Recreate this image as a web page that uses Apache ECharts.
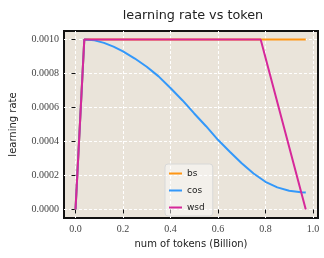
<!DOCTYPE html>
<html><head><meta charset="utf-8">
<script src="https://cdn.jsdelivr.net/npm/echarts@6/dist/echarts.min.js"></script>
<style>html,body{margin:0;padding:0;background:#fff}#c{width:324px;height:258px}</style>
</head><body><div id="c"></div>
<script>
const bsX = [0, 0.037, 0.97];
const bsY = [0, 0.001, 0.001];
const cosX = [0, 0.037, 0.08, 0.12, 0.16, 0.2, 0.25, 0.3, 0.35, 0.4, 0.45, 0.5, 0.55, 0.6, 0.65, 0.7, 0.75, 0.8, 0.85, 0.9, 0.95, 0.97];
const cosY = [0, 0.001, 0.000995, 0.00098, 0.000958, 0.00093, 0.000888, 0.00084, 0.000783, 0.000715, 0.000643, 0.000565, 0.00049, 0.00041, 0.00034, 0.000272, 0.000212, 0.000163, 0.00013, 0.00011, 0.000102, 0.0001];
const wsdX = [0, 0.037, 0.78, 0.97];
const wsdY = [0, 0.001, 0.001, 0];
const xTicks = [0, 0.2, 0.4, 0.6, 0.8, 1.0];
const yTicks = [0, 0.0002, 0.0004, 0.0006, 0.0008, 0.001];
const names = ['bs', 'cos', 'wsd'];
const colors = ['#FF9614', '#3398FA', '#D6289A'];

const zip = (xs, ys) => xs.map((x, i) => [x, ys[i]]);
const chart = echarts.init(document.getElementById('c'), null, {renderer: 'canvas'});
const serif = '"Liberation Serif", "DejaVu Serif", serif';
const sans = '"DejaVu Sans", sans-serif';
chart.setOption({
  animation: false,
  title: {text: 'learning rate vs token', left: 188, textAlign: 'center', top: 4,
    textStyle: {fontFamily: sans, fontSize: 12.8, fontWeight: 'normal', color: '#222'}},
  grid: {left: 58, right: 6, top: 31, bottom: 40, show: true, backgroundColor: '#EAE4DA', borderColor: '#111', borderWidth: 2},
  legend: {
    data: names, orient: 'vertical', left: 165, top: 164,
    icon: 'rect', itemWidth: 13, itemHeight: 2, itemGap: 8,
    backgroundColor: 'rgba(255,255,255,0.45)', borderColor: '#d8d8d8', borderWidth: 1, borderRadius: 3,
    padding: [5, 8, 4, 4],
    textStyle: {fontFamily: sans, fontSize: 9, color: '#222'}
  },
  xAxis: {
    type: 'value', min: -0.0485, max: 1.0215,
    name: 'num of tokens (Billion)', nameLocation: 'middle', nameGap: 21,
    nameTextStyle: {fontFamily: sans, fontSize: 10, color: '#222'},
    axisLine: {show: false},
    axisTick: {show: true, customValues: xTicks, length: 4, lineStyle: {color: '#111', width: 1}},
    axisLabel: {customValues: xTicks, formatter: v => v.toFixed(1), fontFamily: serif, fontSize: 10, color: '#444', margin: 6},
    splitLine: {show: true, lineStyle: {color: '#fff', type: [3, 2], width: 1}}
  },
  yAxis: {
    type: 'value', min: -0.00005, max: 0.00105,
    name: 'learning rate', nameLocation: 'middle', nameGap: 46,
    nameTextStyle: {fontFamily: sans, fontSize: 10, color: '#222'},
    axisLine: {show: false},
    axisTick: {show: true, customValues: yTicks, length: 4, lineStyle: {color: '#111', width: 1}},
    axisLabel: {customValues: yTicks, formatter: v => v.toFixed(4), fontFamily: serif, fontSize: 10, color: '#444', margin: 5},
    splitLine: {show: true, lineStyle: {color: '#fff', type: [3, 2], width: 1}}
  },
  series: [
    {name: names[0], type: 'line', data: zip(bsX, bsY), showSymbol: false, lineStyle: {width: 2, color: colors[0]}, itemStyle: {color: colors[0]}},
    {name: names[1], type: 'line', data: zip(cosX, cosY), showSymbol: false, lineStyle: {width: 2, color: colors[1]}, itemStyle: {color: colors[1]}},
    {name: names[2], type: 'line', data: zip(wsdX, wsdY), showSymbol: false, lineStyle: {width: 2, color: colors[2]}, itemStyle: {color: colors[2]}}
  ]
});
</script></body></html>
